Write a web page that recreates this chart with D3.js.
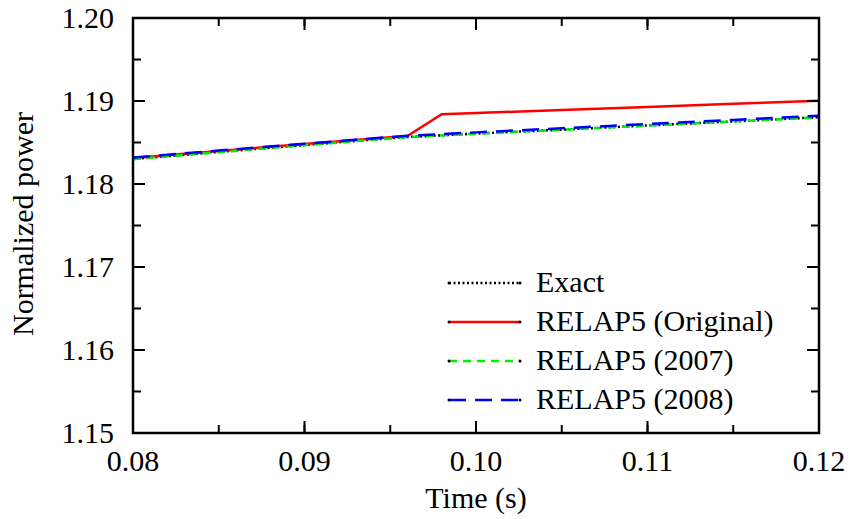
<!DOCTYPE html>
<html>
<head>
<meta charset="utf-8">
<script src="https://cdn.jsdelivr.net/npm/d3@7"></script>
<style>
  body { margin: 0; background: #fff; }
  svg { display: block; }
</style>
</head>
<body>
<div id="chart"></div>
<script>
// ------------------------------
// Data
// ------------------------------
const timeExact = [0.080, 0.085, 0.090, 0.095, 0.096, 0.100, 0.105, 0.110, 0.115, 0.120];
const powerExact = [1.18301, 1.18386, 1.18470, 1.18551, 1.18566, 1.18607, 1.18655, 1.18705, 1.18754, 1.18804];

const timeOriginal = [0.080, 0.085, 0.090, 0.095, 0.096, 0.098, 0.105, 0.110, 0.115, 0.120];
const powerOriginal = [1.18313, 1.18398, 1.18482, 1.18563, 1.18578, 1.18840, 1.18892, 1.18929, 1.18966, 1.19004];

const time2007 = [0.080, 0.085, 0.090, 0.095, 0.096, 0.100, 0.105, 0.110, 0.115, 0.120];
const power2007 = [1.18299, 1.18384, 1.18468, 1.18549, 1.18564, 1.18606, 1.18654, 1.18704, 1.18753, 1.18803];

const time2008 = [0.080, 0.085, 0.090, 0.095, 0.096, 0.100, 0.105, 0.110, 0.115, 0.120];
const power2008 = [1.18319, 1.18403, 1.18485, 1.18566, 1.18581, 1.18622, 1.18672, 1.18722, 1.18772, 1.18823];

const xTicks = [0.08, 0.09, 0.10, 0.11, 0.12];
const yTicks = [1.15, 1.16, 1.17, 1.18, 1.19, 1.20];

const seriesNames = ["Exact", "RELAP5 (Original)", "RELAP5 (2007)", "RELAP5 (2008)"];
const seriesColors = ["#000000", "#ff0000", "#00ee00", "#0000ff"];
const seriesDashes = ["2,2.5", null, "8,6", "17,9"];

const series = [
  { t: timeExact, p: powerExact },
  { t: timeOriginal, p: powerOriginal },
  { t: time2007, p: power2007 },
  { t: time2008, p: power2008 }
];

// pick the first serif face the machine really has
function pickFont(candidates) {
  const ctx = document.createElement("canvas").getContext("2d");
  const probe = "RELAP5 (Original) 0.123 Wmil";
  const widthOf = f => { ctx.font = "40px " + f; return ctx.measureText(probe).width; };
  const mono = widthOf("monospace"), sans = widthOf("sans-serif");
  for (const c of candidates) {
    const a = widthOf("'" + c + "', monospace"), b = widthOf("'" + c + "', sans-serif");
    if (a !== mono || b !== sans) return "'" + c + "', serif";
  }
  return "serif";
}
const serif = pickFont(["Liberation Serif", "Times New Roman", "Tinos", "Nimbus Roman", "Nimbus Roman No9 L",
  "DejaVu Serif", "Noto Serif", "FreeSerif", "Times", "Georgia"]);

const width = 850, height = 519;
const margin = { top: 18, right: 31, bottom: 86, left: 133 };

const svg = d3.select("#chart").append("svg")
  .attr("width", width)
  .attr("height", height)
  .style("font-family", serif);

const x = d3.scaleLinear().domain([0.08, 0.12]).range([margin.left, width - margin.right]);
const y = d3.scaleLinear().domain([1.15, 1.20]).range([height - margin.bottom, margin.top]);

const minorX = d3.range(0.08, 0.1201, 0.005);
const minorY = d3.range(1.15, 1.2001, 0.005);

// data lines (clipped to frame)
svg.append("clipPath").attr("id", "clip")
  .append("rect")
  .attr("x", margin.left).attr("y", margin.top)
  .attr("width", width - margin.left - margin.right)
  .attr("height", height - margin.top - margin.bottom);

const line = d3.line().x(d => x(d[0])).y(d => y(d[1]));

series.forEach((s, i) => {
  svg.append("path")
    .attr("clip-path", "url(#clip)")
    .attr("d", line(s.t.map((t, j) => [t, s.p[j]])))
    .attr("fill", "none")
    .attr("stroke", seriesColors[i])
    .attr("stroke-width", 2.5)
    .attr("stroke-dasharray", seriesDashes[i]);
});

// axes with inward ticks, mirrored on top/right
const bottom = height - margin.bottom, right = width - margin.right;

function tickMarks(g, vals, len, side) {
  g.selectAll(null).data(vals).enter().append("line")
    .attr("x1", d => side === "x" ? x(d) : margin.left)
    .attr("x2", d => side === "x" ? x(d) : margin.left + len)
    .attr("y1", d => side === "x" ? bottom : y(d))
    .attr("y2", d => side === "x" ? bottom - len : y(d));
  g.selectAll(null).data(vals).enter().append("line")
    .attr("x1", d => side === "x" ? x(d) : right)
    .attr("x2", d => side === "x" ? x(d) : right - len)
    .attr("y1", d => side === "x" ? margin.top : y(d))
    .attr("y2", d => side === "x" ? margin.top + len : y(d));
}

const ticks = svg.append("g").attr("stroke", "#000").attr("stroke-width", 2);
tickMarks(ticks, minorX, 8, "x");
tickMarks(ticks, xTicks, 12, "x");
tickMarks(ticks, minorY, 8, "y");
tickMarks(ticks, yTicks, 12, "y");

svg.append("rect")
  .attr("x", margin.left).attr("y", margin.top)
  .attr("width", right - margin.left)
  .attr("height", bottom - margin.top)
  .attr("fill", "none")
  .attr("stroke", "#000")
  .attr("stroke-width", 2.5);

svg.selectAll(".xlab").data(xTicks).enter().append("text")
  .attr("x", d => x(d))
  .attr("y", 471)
  .attr("text-anchor", "middle")
  .attr("font-size", "30px")
  .text(d => d.toFixed(2));

svg.selectAll(".ylab").data(yTicks).enter().append("text")
  .attr("x", 114)
  .attr("y", d => y(d) + 10)
  .attr("text-anchor", "end")
  .attr("font-size", "30px")
  .text(d => d.toFixed(2));

svg.append("text")
  .attr("x", x(0.10))
  .attr("y", 508)
  .attr("text-anchor", "middle")
  .attr("font-size", "30px")
  .text("Time (s)");

svg.append("text")
  .attr("transform", "translate(33," + 224 + ") rotate(-90)")
  .attr("text-anchor", "middle")
  .attr("font-size", "30px")
  .text("Normalized power");

// legend
const legend = svg.append("g");
seriesNames.forEach((name, i) => {
  const ly = 283 + i * 39;
  legend.append("line")
    .attr("x1", 449).attr("x2", 520)
    .attr("y1", ly).attr("y2", ly)
    .attr("stroke", seriesColors[i])
    .attr("stroke-width", 2.5)
    .attr("stroke-dasharray", seriesDashes[i]);
  [449, 520].forEach(px => {
    legend.append("circle").attr("cx", px).attr("cy", ly).attr("r", 1.5).attr("fill", "#000");
  });
  legend.append("text")
    .attr("x", 536)
    .attr("y", ly + 9)
    .attr("font-size", "30px")
    .text(name);
});
</script>
</body>
</html>
